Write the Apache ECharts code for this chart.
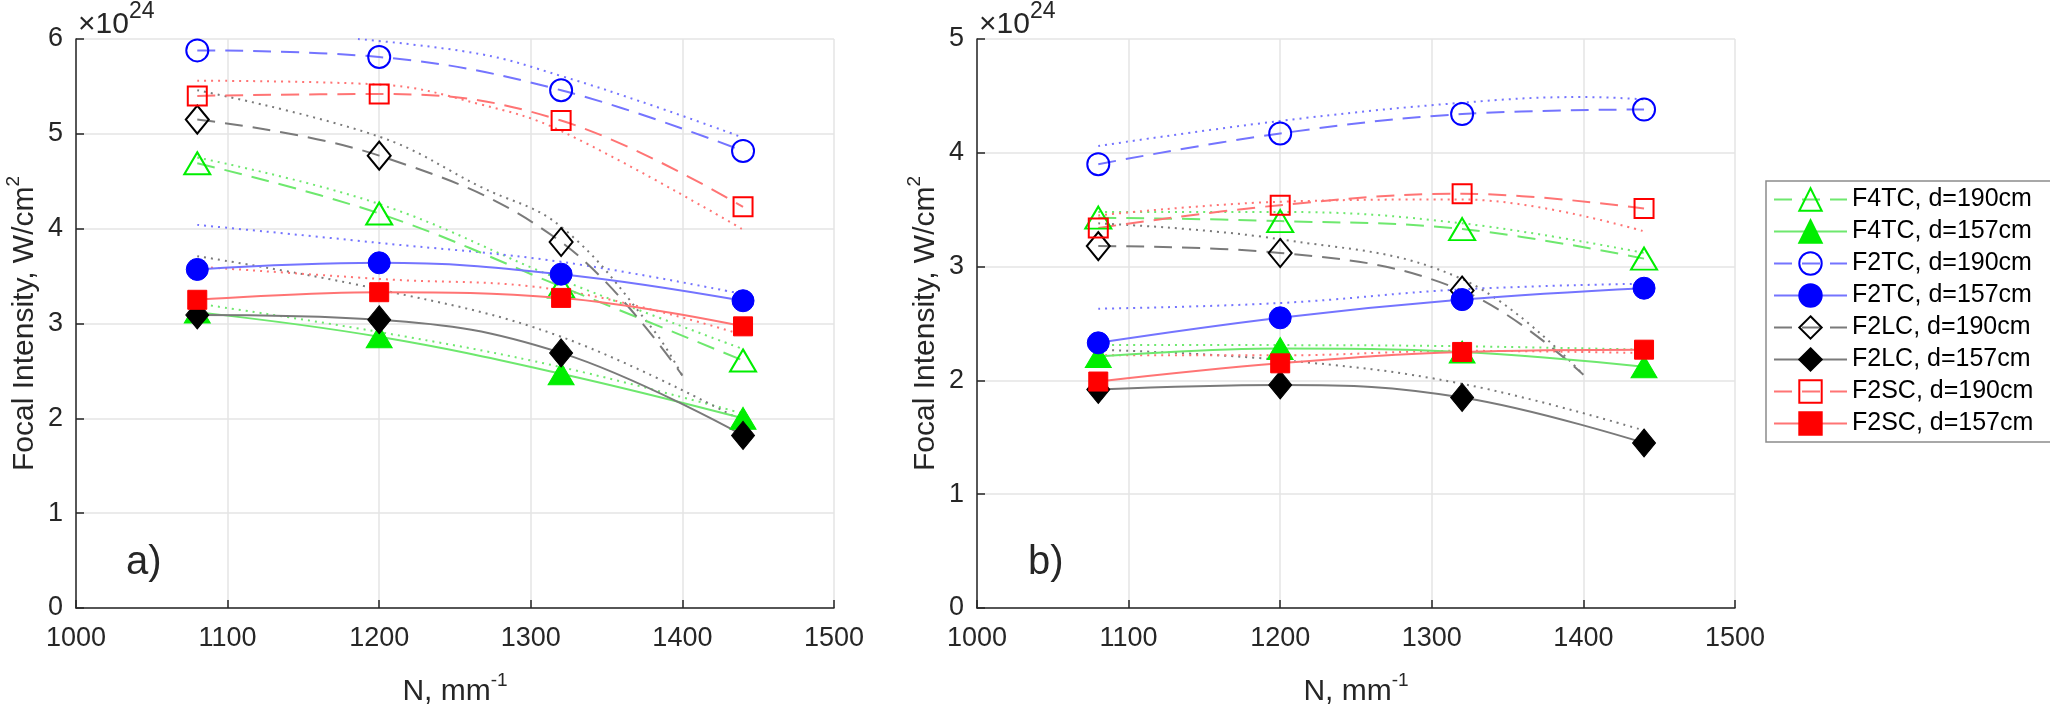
<!DOCTYPE html>
<html>
<head>
<meta charset="utf-8">
<script src="https://cdn.jsdelivr.net/npm/echarts@6/dist/echarts.min.js"></script>
<style>
  html, body { margin: 0; padding: 0; background: #fff; }
  #chart { width: 2050px; height: 705px; }
</style>
</head>
<body>
<div id="chart"></div>
<script>
// grating groove density N, mm^-1
const nValues = [1080, 1200, 1320, 1440];
const xTicks = [1000, 1100, 1200, 1300, 1400, 1500];
const yTicksA = [0, 1, 2, 3, 4, 5, 6];
const yTicksB = [0, 1, 2, 3, 4, 5];

// panel a) measured focal intensity, x10^24 W/cm^2
const aF4TC190 = [4.69, 4.16, 3.39, 2.61];
const aF4TC157 = [3.12, 2.86, 2.47, 2.00];
const aF2TC190 = [5.88, 5.81, 5.46, 4.82];
const aF2TC157 = [3.57, 3.64, 3.52, 3.24];
const aF2LC190 = [5.15, 4.77, 3.86];
const aF2LC190End = [1400, 2.45];
const aF2LC157 = [3.09, 3.04, 2.69, 1.82];
const aF2SC190 = [5.40, 5.42, 5.14, 4.23];
const aF2SC157 = [3.25, 3.33, 3.27, 2.97];

// panel a) dotted curves [N, value]
const aF4TC190Dot = [[1080, 4.75], [1200, 4.26], [1320, 3.46], [1440, 2.73]];
const aF4TC157Dot = [[1080, 3.21], [1200, 2.91], [1320, 2.54], [1440, 2.05]];
const aF2TC190Dot = [[1186, 6.0], [1267, 5.84], [1320, 5.61], [1380, 5.3], [1440, 4.96]];
const aF2TC157Dot = [[1080, 4.04], [1200, 3.85], [1320, 3.65], [1440, 3.31]];
const aF2LC190Dot = [[1080, 5.46], [1200, 4.97], [1267, 4.44], [1320, 4.02], [1380, 2.95], [1400, 2.45]];
const aF2LC157Dot = [[1080, 3.71], [1200, 3.36], [1320, 2.86], [1440, 1.97]];
const aF2SC190Dot = [[1080, 5.56], [1200, 5.52], [1267, 5.31], [1320, 5.03], [1440, 3.99]];
const aF2SC157Dot = [[1080, 3.60], [1200, 3.47], [1320, 3.35], [1440, 2.88]];

// panel b) measured focal intensity
const bF4TC190 = [3.43, 3.40, 3.33, 3.07];
const bF4TC157 = [2.21, 2.28, 2.25, 2.12];
const bF2TC190 = [3.90, 4.17, 4.34, 4.38];
const bF2TC157 = [2.33, 2.55, 2.71, 2.81];
const bF2LC190 = [3.18, 3.12, 2.79];
const bF2LC190End = [1400, 2.05];
const bF2LC157 = [1.92, 1.96, 1.85, 1.45];
const bF2SC190 = [3.34, 3.54, 3.64, 3.51];
const bF2SC157 = [1.99, 2.15, 2.25, 2.27];

// panel b) dotted curves
const bF4TC190Dot = [[1080, 3.48], [1200, 3.48], [1320, 3.38], [1440, 3.12]];
const bF4TC157Dot = [[1080, 2.31], [1200, 2.31], [1320, 2.30], [1440, 2.27]];
const bF2TC190Dot = [[1080, 4.06], [1200, 4.28], [1320, 4.44], [1400, 4.49], [1440, 4.47]];
const bF2TC157Dot = [[1080, 2.63], [1200, 2.68], [1320, 2.80], [1440, 2.85]];
const bF2LC190Dot = [[1080, 3.38], [1200, 3.24], [1320, 2.89], [1400, 2.05]];
const bF2LC157Dot = [[1080, 2.27], [1200, 2.18], [1320, 1.97], [1440, 1.56]];
const bF2SC190Dot = [[1080, 3.45], [1200, 3.57], [1320, 3.59], [1440, 3.31]];
const bF2SC157Dot = [[1080, 2.22], [1200, 2.22], [1320, 2.26], [1440, 2.24]];

const font = '"Liberation Sans", Arial, sans-serif';
const ink = '#262626';

const styles = {
    F4TC: { mark: '#00ee00', line: '#6ee86e', symbol: 'triangle', size: [26, 22] },
    F2TC: { mark: '#0000ff', line: '#7474ff', symbol: 'circle', size: 22 },
    F2LC: { mark: '#000000', line: '#7a7a7a', symbol: 'diamond', size: [23, 28] },
    F2SC: { mark: '#ff0000', line: '#ff7474', symbol: 'rect', size: [19, 19] }
};

function marked(name, key, panel, vals, filled, end) {
    const st = styles[key];
    const data = vals.map((v, i) => [nValues[i], v]);
    if (end) data.push({ value: end, symbol: 'none' });
    return {
        name: name,
        type: 'line',
        xAxisIndex: panel, yAxisIndex: panel,
        data: data,
        smooth: 0.4,
        symbol: st.symbol,
        symbolSize: st.size,
        z: filled ? 4 : 3,
        lineStyle: { color: st.line, width: 2, type: filled ? 'solid' : [18, 10] },
        itemStyle: filled
            ? { color: st.mark, borderColor: st.mark, borderWidth: 1 }
            : { color: 'rgba(255,255,255,0)', borderColor: st.mark, borderWidth: 2 }
    };
}

function dotted(key, panel, pts) {
    return {
        type: 'line',
        xAxisIndex: panel, yAxisIndex: panel,
        data: pts,
        smooth: 0.4,
        symbol: 'none',
        z: 2,
        silent: true,
        lineStyle: { color: styles[key].line, width: 2, type: [2, 5] }
    };
}

const nameRich = {
    t: { fontSize: 30, fontFamily: font, color: ink, lineHeight: 36, verticalAlign: 'bottom' },
    s: { fontSize: 19, fontFamily: font, color: ink, lineHeight: 20, verticalAlign: 'top' }
};

function xAxis(i) {
    return {
        type: 'value', gridIndex: i,
        min: xTicks[0], max: xTicks[xTicks.length - 1], interval: 100,
        name: '{t|N, mm}{s|-1}',
        nameLocation: 'middle', nameGap: 63,
        nameTextStyle: { rich: nameRich },
        axisLine: { lineStyle: { color: ink, width: 1.5 } },
        axisTick: { inside: true, length: 8, lineStyle: { color: ink, width: 1.5 } },
        axisLabel: { fontSize: 27, fontFamily: font, color: ink, margin: 17, formatter: v => String(v) },
        splitLine: { show: true, lineStyle: { color: '#e4e4e4', width: 1.5 } }
    };
}

function yAxis(i, ticks) {
    return {
        type: 'value', gridIndex: i,
        min: 0, max: ticks[ticks.length - 1], interval: 1,
        name: '{t|Focal Intensity, W/cm}{s|2}',
        nameLocation: 'middle', nameGap: 36,
        nameTextStyle: { rich: nameRich },
        axisLine: { show: true, lineStyle: { color: ink, width: 1.5 } },
        axisTick: { show: true, inside: true, length: 8, lineStyle: { color: ink, width: 1.5 } },
        axisLabel: { fontSize: 27, fontFamily: font, color: ink, margin: 13 },
        splitLine: { show: true, lineStyle: { color: '#e4e4e4', width: 1.5 } }
    };
}

function exponent(left) {
    return {
        type: 'text', left: left, top: 0,
        style: {
            text: '{a|×10}{b|24}',
            rich: {
                a: { fontSize: 30, fontFamily: font, fill: ink, lineHeight: 40, verticalAlign: 'bottom' },
                b: { fontSize: 23, fontFamily: font, fill: ink, lineHeight: 24, verticalAlign: 'top' }
            }
        }
    };
}

const chart = echarts.init(document.getElementById('chart'));
chart.setOption({
    animation: false,
    backgroundColor: '#fff',
    textStyle: { fontFamily: font },
    grid: [
        { left: 76, top: 39, width: 758, height: 569, outerBoundsMode: 'none', containLabel: false },
        { left: 977, top: 39, width: 758, height: 569, outerBoundsMode: 'none', containLabel: false }
    ],
    xAxis: [xAxis(0), xAxis(1)],
    yAxis: [yAxis(0, yTicksA), yAxis(1, yTicksB)],
    legend: {
        orient: 'vertical',
        left: 1766, top: 181,
        itemWidth: 73, itemHeight: 28, itemGap: 7,
        padding: [6, 18, 6, 7],
        borderColor: '#8c8c8c', borderWidth: 1.5,
        backgroundColor: '#fff',
        textStyle: { fontSize: 25, fontFamily: font, color: '#000' },
        data: ['F4TC, d=190cm', 'F4TC, d=157cm', 'F2TC, d=190cm', 'F2TC, d=157cm',
            'F2LC, d=190cm', 'F2LC, d=157cm', 'F2SC, d=190cm', 'F2SC, d=157cm']
    },
    graphic: [
        exponent(78),
        exponent(979),
        { type: 'text', left: 126, top: 543, style: { text: 'a)', fontSize: 40, fontFamily: font, fill: ink } },
        { type: 'text', left: 1028, top: 543, style: { text: 'b)', fontSize: 40, fontFamily: font, fill: ink } }
    ],
    series: [
        dotted('F4TC', 0, aF4TC190Dot), dotted('F4TC', 0, aF4TC157Dot),
        dotted('F2TC', 0, aF2TC190Dot), dotted('F2TC', 0, aF2TC157Dot),
        dotted('F2LC', 0, aF2LC190Dot), dotted('F2LC', 0, aF2LC157Dot),
        dotted('F2SC', 0, aF2SC190Dot), dotted('F2SC', 0, aF2SC157Dot),
        dotted('F4TC', 1, bF4TC190Dot), dotted('F4TC', 1, bF4TC157Dot),
        dotted('F2TC', 1, bF2TC190Dot), dotted('F2TC', 1, bF2TC157Dot),
        dotted('F2LC', 1, bF2LC190Dot), dotted('F2LC', 1, bF2LC157Dot),
        dotted('F2SC', 1, bF2SC190Dot), dotted('F2SC', 1, bF2SC157Dot),

        marked('F4TC, d=190cm', 'F4TC', 0, aF4TC190, false),
        marked('F4TC, d=157cm', 'F4TC', 0, aF4TC157, true),
        marked('F2TC, d=190cm', 'F2TC', 0, aF2TC190, false),
        marked('F2TC, d=157cm', 'F2TC', 0, aF2TC157, true),
        marked('F2LC, d=190cm', 'F2LC', 0, aF2LC190, false, aF2LC190End),
        marked('F2LC, d=157cm', 'F2LC', 0, aF2LC157, true),
        marked('F2SC, d=190cm', 'F2SC', 0, aF2SC190, false),
        marked('F2SC, d=157cm', 'F2SC', 0, aF2SC157, true),

        marked('F4TC, d=190cm', 'F4TC', 1, bF4TC190, false),
        marked('F4TC, d=157cm', 'F4TC', 1, bF4TC157, true),
        marked('F2TC, d=190cm', 'F2TC', 1, bF2TC190, false),
        marked('F2TC, d=157cm', 'F2TC', 1, bF2TC157, true),
        marked('F2LC, d=190cm', 'F2LC', 1, bF2LC190, false, bF2LC190End),
        marked('F2LC, d=157cm', 'F2LC', 1, bF2LC157, true),
        marked('F2SC, d=190cm', 'F2SC', 1, bF2SC190, false),
        marked('F2SC, d=157cm', 'F2SC', 1, bF2SC157, true)
    ]
});
</script>
</body>
</html>
